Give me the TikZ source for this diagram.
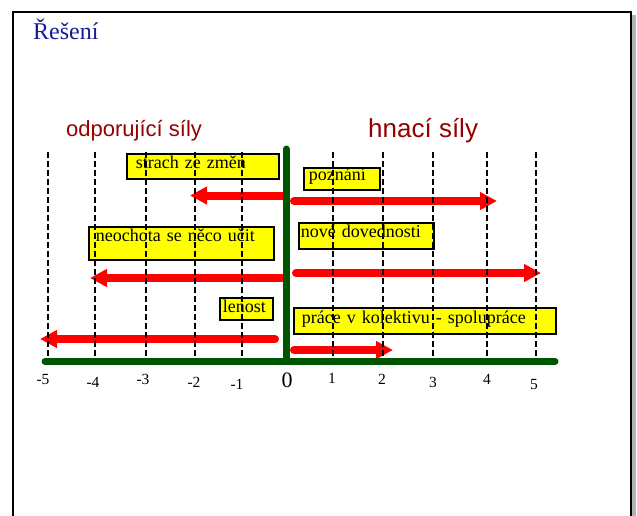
\documentclass[tikz,border=0pt]{standalone}
\usepackage{fontspec}
\setmainfont{Liberation Serif}
\newfontfamily\arialf{Liberation Sans}
\usetikzlibrary{arrows.meta}
\definecolor{titleblue}{RGB}{25,25,150}
\definecolor{forcered}{RGB}{150,0,0}
\definecolor{axisgreen}{RGB}{0,85,0}
\definecolor{boxyellow}{RGB}{255,255,0}
\definecolor{arrowred}{RGB}{255,0,0}
\begin{document}
\begin{tikzpicture}[x=1pt,y=-1pt,
  forcebox/.style={draw=black, line width=1.8pt, fill=boxyellow, anchor=north west,
    font=\fontsize{18}{20}\selectfont, align=left, inner ysep=0pt},
  gridline/.style={draw=black, line width=1.8pt, dash pattern=on 6pt off 3pt},
  axisline/.style={draw=axisgreen, line width=7pt, line cap=round},
  forcearrow/.style={draw=arrowred, line width=8pt, line cap=round,
    -{Triangle[length=17pt,width=17pt]}},
  ticklabel/.style={font=\fontsize{15.5}{16}\selectfont, inner sep=0pt},
  heading/.style={text=forcered, anchor=base west, inner sep=0pt}]
\useasboundingbox (0,0) rectangle (637,515);
% frame
\fill[gray!60] (632,15) rectangle (636,520);
\draw[line width=2pt] (13,520) -- (13,12) -- (631,12) -- (631,520);
% titles
\node[anchor=base west, inner sep=0pt, text=titleblue, font=\fontsize{24}{26}\selectfont] (title) at (33,39) {Řešení};
\node[heading, font=\arialf\fontsize{22}{24}\selectfont] (oppose) at (66,136) {odporující síly};
\node[heading, font=\arialf\fontsize{26}{28}\selectfont] (drive) at (368,137) {hnací síly};
% boxes
\node[forcebox, text width=134pt, inner xsep=9pt, text height=15pt, text depth=10pt] (strach) at (126,153) {strach ze změn};
\node[forcebox, text width=66pt, inner xsep=5pt, text height=13pt, text depth=9pt] (poznani) at (303,167) {poznání};
\node[forcebox, text width=131pt, inner xsep=2pt, text height=15pt, text depth=11pt] (nove) at (298,222) {nové dovednosti};
\node[forcebox, text width=171pt, inner xsep=7pt, text height=15pt, text depth=18pt] (neochota) at (88,226) {neochota se něco učit};
\node[forcebox, text width=47pt, inner xsep=3pt, text height=15pt, text depth=7pt] (lenost) at (219,297) {lenost};
\node[forcebox, text width=246pt, inner xsep=8pt, text height=16pt, text depth=10pt] (prace) at (293,307) {práce v kolektivu - spolupráce};
% arrow end points
\coordinate (l1s) at (282,195.5); \coordinate (l1e) at (190,195.5);
\coordinate (r1s) at (294,201);   \coordinate (r1e) at (497,201);
\coordinate (l2s) at (282,278);   \coordinate (l2e) at (90,278);
\coordinate (r2s) at (296,273);   \coordinate (r2e) at (541,273);
\coordinate (l3s) at (275,339);   \coordinate (l3e) at (40,339);
\coordinate (r3s) at (294,350);   \coordinate (r3e) at (393,350);
\draw[forcearrow] (l1s) -- (l1e);
\draw[forcearrow] (r1s) -- (r1e);
\draw[forcearrow] (l2s) -- (l2e);
\draw[forcearrow] (r2s) -- (r2e);
\draw[forcearrow] (l3s) -- (l3e);
\draw[forcearrow] (r3s) -- (r3e);
% dashed scale lines
\foreach \x in {48,95,146,195,242,333,383,433,487,536}
  \draw[gridline] (\x,152) -- (\x,357);
% axes
\coordinate (vtop) at (286,149);
\coordinate (origin) at (286,361);
\coordinate (hleft) at (45,361.5);
\coordinate (hright) at (555,361.5);
\draw[axisline] (vtop) -- (origin);
\draw[axisline] (hleft) -- (hright);
% tick labels
\node[ticklabel] (m5) at (43,379) {-5};
\node[ticklabel] (m4) at (93,382) {-4};
\node[ticklabel] (m3) at (143,379) {-3};
\node[ticklabel] (m2) at (194,382) {-2};
\node[ticklabel] (m1) at (237,384) {-1};
\node[ticklabel, font=\fontsize{22}{24}\selectfont] (z0) at (287,380) {0};
\node[ticklabel] (p1) at (332,378) {1};
\node[ticklabel] (p2) at (382,379) {2};
\node[ticklabel] (p3) at (433,382) {3};
\node[ticklabel] (p4) at (487,379) {4};
\node[ticklabel] (p5) at (534,384) {5};
\end{tikzpicture}
\end{document}
